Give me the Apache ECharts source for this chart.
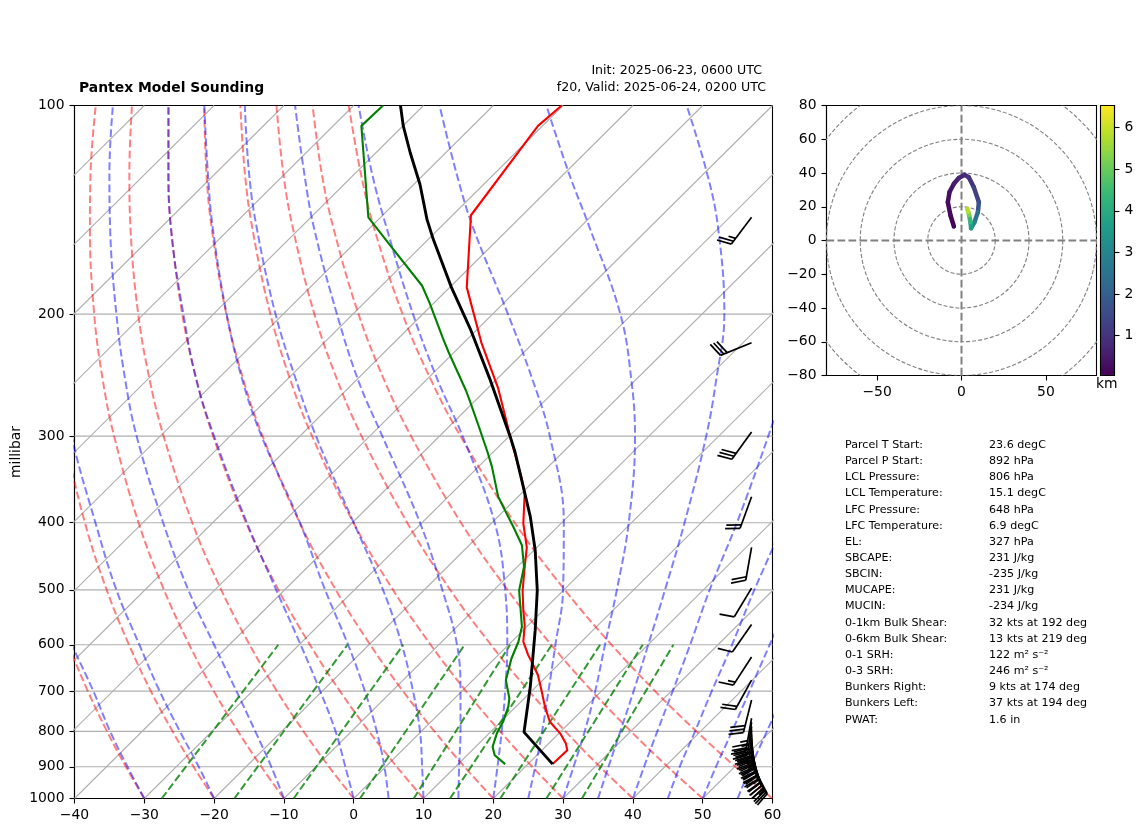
<!DOCTYPE html>
<html>
<head>
<meta charset="utf-8">
<script src="https://cdn.jsdelivr.net/npm/echarts@6/dist/echarts.min.js"></script>
<style>
  html, body { margin: 0; padding: 0; background: #fff; }
  #sounding { width: 1142px; height: 832px; }
</style>
</head>
<body>
<div id="sounding"></div>
<script>
// pressure ticks
var pressureTicks = [100, 200, 300, 400, 500, 600, 700, 800, 900, 1000];
var pressureGrid = [200, 300, 400, 500, 600, 700, 800, 900];
var tempTicks = [-40, -30, -20, -10, 0, 10, 20, 30, 40, 50, 60];

// skewed x position read at each of these levels
var levels = [1000, 900, 800, 700, 600, 500, 400, 300, 250, 200, 150, 125, 100];

// grey isotherms: x at 1000 mb, x at 100 mb is 100 further right
var isotherms = [-130, -120, -110, -100, -90, -80, -70, -60, -50, -40, -30, -20, -10, 0, 10, 20, 30, 40, 50];
var isothermShift = 100;

var dryAdiabats = [
  [-30, -32.64, -35.34, -38.09, -40.84, -43.59, -46.2, -48.5, -49.4, -49.8, -49.4, -48.7, -47.3],
  [-20, -22.94, -25.95, -29.06, -32.19, -35.39, -38.51, -41.41, -42.64, -43.49, -43.61, -43.2, -42.12],
  [-10, -13.23, -16.57, -20.03, -23.55, -27.18, -30.82, -34.32, -35.92, -37.18, -37.79, -37.7, -36.95],
  [0, -3.53, -7.19, -11, -14.91, -18.98, -23.12, -27.23, -29.19, -30.87, -31.98, -32.14, -31.77],
  [10, 6.17, 2.19, -1.97, -6.27, -10.78, -15.42, -20.14, -22.46, -24.56, -26.17, -26.6, -26.59],
  [20, 15.87, 11.57, 7.06, 2.37, -2.57, -7.73, -13.05, -15.74, -18.25, -20.35, -21.1, -21.42],
  [30, 25.58, 20.96, 16.09, 11.02, 5.63, -0.03, -5.96, -9.01, -11.94, -14.54, -15.6, -16.24],
  [40, 35.28, 30.34, 25.12, 19.66, 13.83, 7.67, 1.13, -2.28, -5.63, -8.73, -10.1, -11.07],
  [50, 44.99, 39.72, 34.15, 28.3, 22.04, 15.37, 8.22, 4.45, 0.69, -2.92, -4.6, -5.89],
  [60, 54.69, 49.1, 43.18, 36.94, 30.24, 23.06, 15.3, 11.17, 7, 2.9, 1, -0.71]
];

var moistAdiabats = [
  [-30, -32.4, -34.9, -37.3, -40.4, -44],
  [-20, -22.2, -24.9, -27.8, -30.7, -34, -37, -40.4, -41.5],
  [-10, -11.8, -14.1, -16.8, -20, -23.7, -27.3, -31.1, -32.7, -34, -34.9, -35, -34.5],
  [0, -1.2, -2.6, -4.8, -7.6, -11.1, -15.3, -20, -22.5, -24.4, -26.2, -26.5, -26.5],
  [5, 4.4, 3.3, 1.6, -0.8, -4.1, -7.7, -13.2, -15.9, -18.2, -20.2, -20.9, -21.4],
  [10, 9.8, 9.5, 8.5, 6.9, 4.2, 0, -5.4, -8.2, -11.2, -13.9, -15, -15.6],
  [15, 15.1, 15.3, 15.3, 14.8, 12.7, 9.5, 4.1, 0.7, -2.4, -5.7, -7.1, -8.4],
  [20, 20.6, 21.2, 21.7, 22, 21.7, 20.2, 15.6, 12.1, 8.5, 4.7, 2.6, 0.7],
  [25, 26, 27, 27.9, 28.9, 30, 30.1, 28.1, 25.7, 22.1, 17.1, 14.7, 12.3],
  [30, 31.5, 33.1, 34.6, 36, 37.7, 39.4, 40.3, 39.8, 38.2, 33.8, 30.8, 27.6],
  [35, 36.5, 38.2, 40.1, 42.2, 44.6, 47.4, 50.5, 51.9, 53.1, 52.2, 50.6, 47.7],
  [40, 41.6, 43.5, 45.7, 48.2, 51, 54.9, 59.4, 62],
  [45, 46.7, 48.9, 51.3, 54.2, 57.4, 61.7],
  [50, 51.9, 54.2, 56.7, 59.6, 63.2],
  [55, 56.9, 59.2, 61.8]
];

// mixing ratio lines, x at 1000 mb and x at 600 mb
var mixingBottom = [-27.5, -17.1, -8.6, 0.9, 8.6, 13.8, 21, 27.6, 32.7];
var mixingTop = [-10.8, -0.9, 7.1, 15.9, 22.4, 28.4, 35.3, 41.4, 45.8];
var mixingLevels = [1000, 600];

// temperature profile
var tempP = [892, 852, 833, 806, 775, 737, 698, 664, 635, 621, 594, 562, 535, 501, 463, 434, 401, 363, 343, 300, 286, 256, 220, 183, 144, 107, 100];
var tempX = [28.5, 30.6, 30.4, 29.6, 28.1, 27.4, 26.9, 26.4, 25.5, 25, 24.3, 24.5, 24.3, 24.2, 24.5, 24.8, 24.3, 24.5, 24, 22.4, 21.9, 20.7, 18.3, 16.2, 16.8, 26.4, 29.8];

// dew point profile
var dewP = [892, 866, 842, 806, 775, 737, 717, 675, 628, 594, 565, 501, 463, 431, 406, 367, 332, 317, 292, 268, 258, 227, 217, 193, 182, 159, 145, 107, 100];
var dewX = [21.7, 20.2, 19.9, 20.5, 21.4, 22.15, 22.3, 21.8, 22.6, 23.6, 24.1, 23.7, 24.4, 24.1, 22.9, 20.7, 19.8, 19.2, 18, 16.7, 16.1, 13.6, 12.8, 10.9, 9.8, 5.2, 2.1, 1.1, 4.2];

// parcel path
var parcelP = [892, 802, 690, 572, 501, 438, 392, 355, 316, 300, 248, 210, 183, 156, 146, 130, 117, 107, 100];
var parcelX = [28.5, 24.4, 25.3, 26, 26.3, 26, 25.3, 24.3, 23.1, 22.4, 19.5, 16.7, 14, 11.4, 10.5, 9.5, 8.1, 7.1, 6.7];

// wind barbs
var barbColumn = 57;
var barbP = [145, 220, 296, 367, 434, 497, 561, 625, 675, 721, 766, 776, 787, 797, 808, 819, 830, 841, 852, 863, 872, 881, 887, 892];
var barbDir = [217, 248, 216, 200, 190, 211, 215, 213, 209, 194, 190, 187, 184, 181, 178, 175, 172, 170, 166, 163, 160, 157, 155, 152];
var barbKt = [25, 30, 30, 20, 20, 10, 10, 15, 20, 30, 35, 35, 40, 40, 40, 35, 35, 30, 30, 25, 25, 20, 15, 10];

// hodograph
var hodoU = [-4.5, -6.5, -8.1, -7.1, -4.5, -1.6, 1.8, 4.3, 7.3, 10.3, 9.7, 7.7, 5.7, 5.3, 4.5, 4, 3.4];
var hodoV = [8.3, 14.8, 22.7, 28.7, 33.6, 37, 38.9, 37.5, 31.6, 22.7, 16.8, 10.9, 7.3, 11, 15, 17, 18.8];
var hodoKm = [0.1, 0.2, 0.3, 0.4, 0.55, 0.7, 0.85, 1, 1.3, 1.7, 2.4, 3, 3.7, 4.4, 5.2, 5.8, 6.2];
var hodoRings = [20, 40, 60, 80, 100];
var hodoYTicks = [-80, -60, -40, -20, 0, 20, 40, 60, 80];
var hodoXTicks = [-50, 0, 50];
var kmTicks = [1, 2, 3, 4, 5, 6];
var kmMin = 0.04, kmMax = 6.53;
var viridis = ['#440154', '#482878', '#3e4989', '#31688e', '#26828e', '#1f9e89', '#35b779', '#6ece58', '#b5de2b', '#fde725'];

// text table
var tableLabels = ['Parcel T Start:', 'Parcel P Start:', 'LCL Pressure:', 'LCL Temperature:', 'LFC Pressure:', 'LFC Temperature:', 'EL:', 'SBCAPE:', 'SBCIN:', 'MUCAPE:', 'MUCIN:', '0-1km Bulk Shear:', '0-6km Bulk Shear:', '0-1 SRH:', '0-3 SRH:', 'Bunkers Right:', 'Bunkers Left:', 'PWAT:'];
var tableValues = ['23.6 degC', '892 hPa', '806 hPa', '15.1 degC', '648 hPa', '6.9 degC', '327 hPa', '231 J/kg', '-235 J/kg', '231 J/kg', '-234 J/kg', '32 kts at 192 deg', '13 kts at 219 deg', '122 m² s⁻²', '246 m² s⁻²', '9 kts at 174 deg', '37 kts at 194 deg', '1.6 in'];

var FONT = 'DejaVu Sans';

function minusSign(v) {
  return String(v).replace('-', '\u2212');
}

function curve(data, color, width, dash, opacity, smooth, z) {
  return {
    type: 'line',
    xAxisIndex: 0,
    yAxisIndex: 0,
    data: data,
    smooth: smooth,
    showSymbol: false,
    symbol: 'none',
    silent: true,
    z: z,
    lineStyle: { color: color, width: width, type: dash ? [7.7, 3.3] : 'solid', opacity: opacity, cap: 'butt' }
  };
}

function zipXP(xs, ps) {
  return xs.map(function (x, i) { return [x, ps[i]]; });
}

function renderBarb(params, api) {
  var tip = api.coord([barbColumn, api.value(0)]);
  var dir = api.value(1) * Math.PI / 180;
  var kt = api.value(2);
  var shaft = 33.5, full = 15, half = 7.5, gap = 3.6;
  var ux = Math.sin(dir), uy = -Math.cos(dir);
  // feathers lean 69 deg off the shaft
  var a = 69 * Math.PI / 180;
  var fx = ux * Math.cos(a) - uy * Math.sin(a);
  var fy = ux * Math.sin(a) + uy * Math.cos(a);
  var style = { stroke: '#000', lineWidth: 1.7, fill: null };
  var kids = [{
    type: 'line',
    shape: { x1: tip[0], y1: tip[1], x2: tip[0] + ux * shaft, y2: tip[1] + uy * shaft },
    style: style
  }];
  var pos = shaft;
  var nFull = Math.floor(kt / 10);
  var nHalf = kt % 10 >= 5 ? 1 : 0;
  for (var i = 0; i < nFull + nHalf; i++) {
    var len = i < nFull ? full : half;
    var bx = tip[0] + ux * pos, by = tip[1] + uy * pos;
    kids.push({
      type: 'line',
      shape: { x1: bx, y1: by, x2: bx + fx * len, y2: by + fy * len },
      style: style
    });
    pos -= gap;
  }
  return { type: 'group', children: kids };
}

function renderRing(params, api) {
  var c = api.coord([0, 0]);
  var r = api.size([api.value(2), api.value(2)])[0];
  return {
    type: 'circle',
    shape: { cx: c[0], cy: c[1], r: r },
    style: { fill: null, stroke: '#808080', lineWidth: 1.1, lineDash: [4, 2] }
  };
}

function renderHodo(params, api) {
  var i = params.dataIndex;
  if (i >= hodoU.length - 1) return null;
  var a = api.coord([hodoU[i], hodoV[i]]);
  var b = api.coord([hodoU[i + 1], hodoV[i + 1]]);
  return {
    type: 'line',
    shape: { x1: a[0], y1: a[1], x2: b[0], y2: b[1] },
    style: { stroke: api.visual('color'), lineWidth: 4.5, lineCap: 'round', fill: null }
  };
}

var series = [];

pressureGrid.forEach(function (p) {
  series.push(curve([[-40, p], [60, p]], '#b0b0b0', 1.1, false, 1, false, 1));
});
isotherms.forEach(function (t) {
  series.push(curve([[t, 1000], [t + isothermShift, 100]], '#b0b0b0', 1.1, false, 1, false, 1));
});
dryAdiabats.forEach(function (row) {
  series.push(curve(zipXP(row, levels), '#ff0000', 2, true, 0.5, 0.4, 2));
});
moistAdiabats.forEach(function (row) {
  series.push(curve(zipXP(row, levels), '#0000ff', 2, true, 0.5, 0.4, 2));
});
mixingBottom.forEach(function (x, i) {
  series.push(curve([[x, mixingLevels[0]], [mixingTop[i], mixingLevels[1]]], '#008000', 2, true, 0.8, false, 2));
});
series.push(curve(zipXP(tempX, tempP), '#ff0000', 2.1, false, 1, false, 3));
series.push(curve(zipXP(dewX, dewP), '#008000', 2.1, false, 1, false, 3));
series.push(curve(zipXP(parcelX, parcelP), '#000000', 2.9, false, 1, false, 4));

series.push({
  type: 'custom',
  xAxisIndex: 0,
  yAxisIndex: 0,
  renderItem: renderBarb,
  silent: true,
  z: 5,
  encode: { x: 3, y: 0 },
  data: barbP.map(function (p, i) { return [p, barbDir[i], barbKt[i], barbColumn]; })
});

// hodograph panel
series.push({
  type: 'custom',
  xAxisIndex: 1,
  yAxisIndex: 1,
  renderItem: renderRing,
  clip: true,
  silent: true,
  z: 2,
  encode: { x: 0, y: 1 },
  data: hodoRings.map(function (r) { return [0, 0, r]; })
});
series.push({
  type: 'line',
  xAxisIndex: 1,
  yAxisIndex: 1,
  data: [[-80, 0], [80, 0]],
  showSymbol: false,
  silent: true,
  z: 2,
  lineStyle: { color: '#808080', width: 2, type: [7.7, 3.3] }
});
series.push({
  type: 'line',
  xAxisIndex: 1,
  yAxisIndex: 1,
  data: [[0, -80], [0, 80]],
  showSymbol: false,
  silent: true,
  z: 2,
  lineStyle: { color: '#808080', width: 2, type: [7.7, 3.3] }
});
var hodoSeriesIndex = series.length;
series.push({
  type: 'custom',
  xAxisIndex: 1,
  yAxisIndex: 1,
  renderItem: renderHodo,
  silent: true,
  z: 3,
  encode: { x: 0, y: 1 },
  data: hodoU.map(function (u, i) { return [u, hodoV[i], hodoKm[i]]; })
});

// text
var graphics = [
  { type: 'text', left: 79, top: 81, style: { text: 'Pantex Model Sounding', font: 'bold 13.9px "' + FONT + '"', fill: '#000' } },
  { type: 'text', right: 380, top: 64, style: { text: 'Init: 2025-06-23, 0600 UTC', font: '12.6px "' + FONT + '"', fill: '#000' } },
  { type: 'text', right: 376, top: 81.5, style: { text: 'f20, Valid: 2025-06-24, 0200 UTC', font: '12.6px "' + FONT + '"', fill: '#000' } },
  { type: 'text', left: 1096, top: 377, style: { text: 'km', font: '13.9px "' + FONT + '"', fill: '#000' } }
];
tableLabels.forEach(function (label, i) {
  var y = 439.5 + i * 16.16;
  graphics.push({ type: 'text', left: 845, top: y, style: { text: label, font: '11.1px "' + FONT + '"', fill: '#000' } });
  graphics.push({ type: 'text', left: 989, top: y, style: { text: tableValues[i], font: '11.1px "' + FONT + '"', fill: '#000' } });
});

var blackLine = { show: true, onZero: false, lineStyle: { color: '#000', width: 1.1 } };
var blackTick = { show: true, length: 5, lineStyle: { color: '#000', width: 1.1 } };
var tickFont = { color: '#000', fontSize: 13.9, fontFamily: FONT, margin: 10 };
var yTickFont = Object.assign({ padding: [6, 0, 0, 0] }, tickFont);

var option = {
  animation: false,
  backgroundColor: '#fff',
  textStyle: { fontFamily: FONT },
  grid: [
    { left: 74.5, top: 105.5, width: 698, height: 693, outerBoundsMode: 'none', show: true, borderColor: '#000', borderWidth: 1.1, backgroundColor: 'transparent' },
    { left: 826.5, top: 105.5, width: 270, height: 270, outerBoundsMode: 'none', show: true, borderColor: '#000', borderWidth: 1.1, backgroundColor: 'transparent' },
    { left: 1100.5, top: 105.5, width: 14, height: 270, outerBoundsMode: 'none', show: true, borderColor: '#000', borderWidth: 1.1, backgroundColor: 'transparent', z: 6 }
  ],
  xAxis: [
    {
      gridIndex: 0, type: 'value', min: -40, max: 60, interval: 10,
      axisLine: blackLine, axisTick: blackTick, splitLine: { show: false },
      axisLabel: Object.assign({ formatter: minusSign, customValues: tempTicks }, tickFont)
    },
    {
      gridIndex: 1, type: 'value', min: -80, max: 80,
      axisLine: blackLine,
      axisTick: Object.assign({ customValues: hodoXTicks }, blackTick),
      splitLine: { show: false },
      axisLabel: Object.assign({ formatter: minusSign, customValues: hodoXTicks }, tickFont)
    },
    { gridIndex: 2, type: 'value', min: 0, max: 1, show: false }
  ],
  yAxis: [
    {
      gridIndex: 0, type: 'log', logBase: 10, min: 100, max: 1000, inverse: true,
      name: 'millibar', nameLocation: 'middle', nameGap: 51, nameRotate: 90, nameMoveOverlap: false,
      nameTextStyle: { color: '#000', fontSize: 13.9, fontFamily: FONT },
      axisLine: blackLine,
      axisTick: Object.assign({ customValues: pressureTicks }, blackTick),
      minorTick: { show: false }, splitLine: { show: false }, minorSplitLine: { show: false },
      axisLabel: Object.assign({ formatter: String, customValues: pressureTicks }, yTickFont)
    },
    {
      gridIndex: 1, type: 'value', min: -80, max: 80,
      axisLine: blackLine,
      axisTick: Object.assign({ customValues: hodoYTicks }, blackTick),
      splitLine: { show: false },
      axisLabel: Object.assign({ formatter: minusSign, customValues: hodoYTicks }, yTickFont)
    },
    {
      gridIndex: 2, type: 'value', min: kmMin, max: kmMax, position: 'right', z: 6,
      axisLine: blackLine,
      axisTick: Object.assign({ customValues: kmTicks }, blackTick),
      splitLine: { show: false },
      axisLabel: Object.assign({ customValues: kmTicks }, yTickFont)
    }
  ],
  visualMap: {
    type: 'continuous',
    seriesIndex: hodoSeriesIndex,
    dimension: 2,
    min: kmMin,
    max: kmMax,
    left: 1100.5,
    top: 105.5,
    padding: 0,
    itemWidth: 14,
    itemHeight: 270,
    text: null,
    calculable: false,
    showLabel: false,
    hoverLink: false,
    z: 2,
    inRange: { color: viridis }
  },
  graphic: graphics,
  series: series
};

var chart = echarts.init(document.getElementById('sounding'), null, { renderer: 'canvas' });
chart.setOption(option);
</script>
</body>
</html>
